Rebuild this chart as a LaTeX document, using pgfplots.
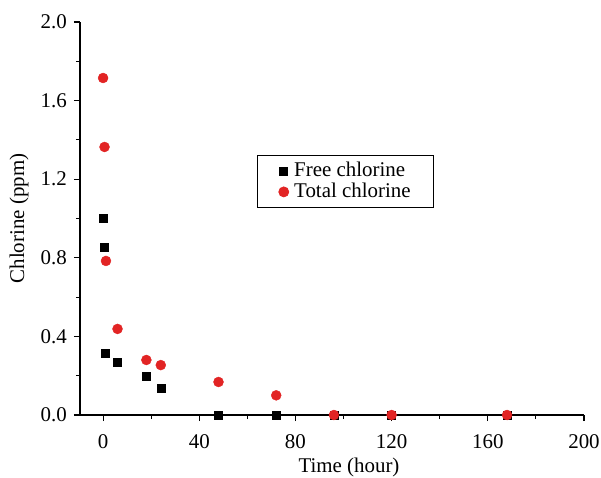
\documentclass[border=0pt]{standalone}
\usepackage{pgfplots}
\pgfplotsset{compat=1.18}
\usepackage{fontspec}
\setmainfont{Liberation Serif}
\definecolor{myred}{RGB}{226,36,36}
\begin{document}
\fontsize{21}{25}\selectfont
\begin{tikzpicture}[x=1bp,y=1bp]
\useasboundingbox (-80bp,-63bp) rectangle (521bp,415bp);
\begin{axis}[name=ax, at={(0bp,0bp)}, anchor=south west,
  scale only axis, width=504bp, height=393bp,
  xmin=-9.6, xmax=200, ymin=0, ymax=2.0,
  axis lines=left, axis line style={-, line width=1.2bp},
  xtick={0,40,...,200}, ytick={0,0.4,...,2.0},
  minor x tick num=1, minor y tick num=1,
  tick align=outside, major tick length=6bp, minor tick length=4bp,
  tick style={line width=1.1bp, black},
  yticklabel style={/pgf/number format/.cd, fixed, fixed zerofill, precision=1},
  /pgf/number format/assume math mode=true,
  ticklabel style={font=\fontsize{21}{25}\selectfont},
  xticklabel style={yshift=-6bp},
  xlabel={Time (hour)}, ylabel={Chlorine (ppm)},
  label style={font=\fontsize{21}{25}\selectfont},
  xlabel style={yshift=4bp, xshift=17bp}, ylabel style={yshift=-2bp},
  clip=false,
  legend image code/.code={\path (-5bp,0bp) (5bp,0bp); \draw[#1] plot coordinates {(0bp,0bp)};},
  legend style={at={(axis cs:64,1.323)}, anchor=north west, draw=black, line width=0.8bp,
    font=\fontsize{21}{23}\selectfont, inner xsep=21bp, inner ysep=5bp, row sep=-1bp,
    /tikz/every even column/.append style={column sep=1bp},
    /tikz/every odd column/.append style={column sep=3bp}},
  legend cell align=left,
]
\addplot[only marks, mark=square*, mark size=4bp, black] coordinates {
 (0,1.0) (0.5,0.855) (1,0.315) (6,0.27) (18,0.2) (24,0.137) (48,0) (72,0) (96,0) (120,0) (168,0)};
\addlegendentry{Free chlorine}
\addplot[only marks, mark=*, mark size=5bp, myred, mark options={draw=myred, fill=myred}] coordinates {
 (0,1.715) (0.6,1.364) (1.2,0.784) (6,0.438) (18,0.28) (24,0.254) (48,0.168) (72,0.10) (96,0) (120,0) (168,0)};
\addlegendentry{Total chlorine}
\end{axis}
\end{tikzpicture}
\end{document}
